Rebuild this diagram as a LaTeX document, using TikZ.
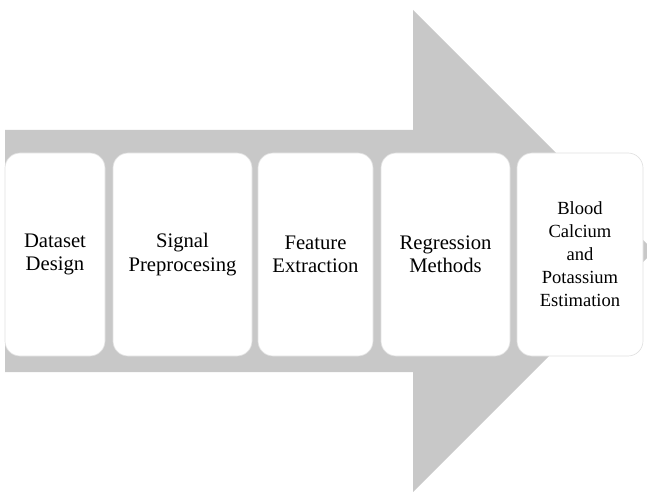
\documentclass[tikz,border=0pt]{standalone}
\usepackage{fontspec}
\setmainfont{Liberation Serif}
\definecolor{arrowgray}{RGB}{200,200,200}
\definecolor{boxline}{RGB}{225,225,225}
\tikzset{
  stage/.style={draw=boxline, line width=0.5pt, fill=white, rounded corners=11.25pt,
    minimum height=152.25pt, inner sep=0pt, align=center,
    font=\fontsize{15.5pt}{17.5pt}\selectfont},
  smalltext/.style={font=\fontsize{13.9pt}{17.2pt}\selectfont},
  bigarrow/.style={fill=arrowgray, draw=none}
}
\begin{document}
\begin{tikzpicture}[x=0.75pt, y=-0.75pt]
  \useasboundingbox (0,0) rectangle (647,492);
  \begin{scope}
    \clip (0,0) rectangle (647,492);
    \fill[bigarrow] (5,130) -- (413,130) -- (413,10) -- (654,251) -- (413,492) -- (413,372) -- (5,372) -- cycle;
  \end{scope}
  \node[stage, minimum width=75pt] (s1) at (55,254.5) {Dataset\\Design};
  \node[stage, minimum width=104.25pt] (s2) at (182.5,254.5) {Signal\\Preprocesing};
  \node[stage, minimum width=86.25pt] (s3) at (315.5,254.5) {Feature\\Extraction};
  \node[stage, minimum width=96.75pt] (s4) at (445.5,254.5) {Regression\\Methods};
  \node[stage, smalltext, minimum width=94.5pt] (s5) at (580,254.5) {Blood\\Calcium\\and\\Potassium\\Estimation};
\end{tikzpicture}
\end{document}
